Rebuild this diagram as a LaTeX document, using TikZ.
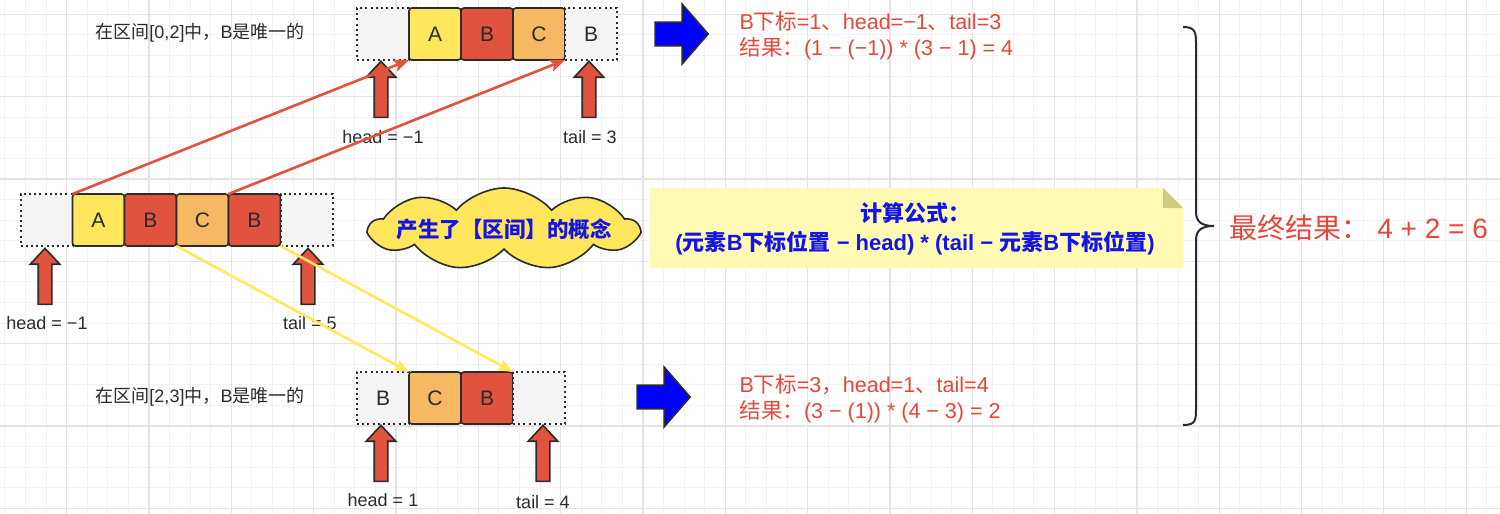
\documentclass[tikz,border=0pt]{standalone}
\usepackage{fontspec}
\setmainfont{Liberation Sans}
\newfontfamily\cjk{Noto Sans CJK SC}
\usepackage{tikz}
\usetikzlibrary{positioning, arrows.meta, shapes.arrows, shapes.symbols}

\definecolor{cellred}{HTML}{E1523F}
\definecolor{cellyellow}{HTML}{FFE65C}
\definecolor{cellorange}{HTML}{F6B862}
\definecolor{holegray}{HTML}{F4F4F4}
\definecolor{inkred}{HTML}{E5483A}
\definecolor{inkblue}{HTML}{1414E6}
\definecolor{linkyellow}{HTML}{FFEA5E}
\definecolor{notefill}{HTML}{FFFBB5}
\definecolor{foldfill}{HTML}{D0CB80}
\definecolor{gridminor}{HTML}{F2F2F2}
\definecolor{gridmajor}{HTML}{E4E4E4}
\definecolor{outline}{HTML}{2B2B2B}

\begin{document}
\begin{tikzpicture}[x=1pt, y=-1pt,
            cell/.style={draw=outline, line width=1.6pt, rounded corners=3pt, minimum width=52pt, minimum height=52pt, inner sep=0pt, outer sep=0pt, text=outline, font=\fontsize{21}{21}\selectfont},
            hole/.style={cell, fill=holegray, rounded corners=0pt, line width=2pt, dash pattern=on 2pt off 3.2pt},
            uparrow/.style={single arrow, draw=outline, line width=1.6pt, fill=cellred, shape border rotate=90, minimum height=56pt, inner sep=6pt, single arrow head extend=8pt, single arrow tip angle=86},
            blockarrow/.style={single arrow, draw=outline, line width=1.6pt, fill=blue, minimum height=53pt, inner sep=11pt, single arrow head extend=18pt, single arrow tip angle=98},
            bubble/.style={cloud, draw=outline, line width=1.6pt, fill=cellyellow, cloud ignores aspect, cloud puffs=9, cloud puff arc=100, minimum width=268pt, minimum height=82pt, inner xsep=-40pt, inner ysep=-4pt, text=inkblue, font=\bfseries\fontsize{21.5}{21.5}\selectfont},
            redlink/.style={draw=cellred, line width=2.6pt, -{Stealth[length=15pt, width=12pt, inset=3pt]}},
            yellowlink/.style={draw=linkyellow, line width=2.6pt, -{Stealth[length=15pt, width=12pt, inset=3pt]}},
            caption/.style={text=outline, font=\fontsize{18}{18}\selectfont},
            marker/.style={text=outline, font=\fontsize{18}{18}\selectfont},
            result/.style={text=inkred, align=left, anchor=west, font=\fontsize{21.5}{26}\selectfont},
            formula/.style={text=inkblue, align=center, font=\bfseries\fontsize{22}{29}\selectfont},
            total/.style={text=inkred, anchor=west, font=\fontsize{28}{28}\selectfont}]
            \useasboundingbox (0,0) rectangle (1500,514);
            \fill[white] (0,0) rectangle (1500,514);
            % grid paper
            \foreach \k in {0,...,72} \draw[gridminor, line width=1pt] ({4.96+20.58*\k},0) -- ({4.96+20.58*\k},514);
            \foreach \k in {0,...,25} \draw[gridminor, line width=1pt] (0,{-6.18+20.58*\k}) -- (1500,{-6.18+20.58*\k});
            \foreach \k in {0,...,17} \draw[gridmajor, line width=1.3pt] ({66.7+82.32*\k},0) -- ({66.7+82.32*\k},514);
            \foreach \k in {0,...,6} \draw[gridmajor, line width=1.3pt] (0,{14.4+82.32*\k}) -- (1500,{14.4+82.32*\k});

            % interval [0,2]
            \node[hole] (t0) at (383,34) {};
            \node[cell, fill=cellyellow, right=0pt of t0] (t1) {A};
            \node[cell, fill=cellred, right=0pt of t1] (t2) {B};
            \node[cell, fill=cellorange, right=0pt of t2] (t3) {C};
            \node[hole, right=0pt of t3] (t4) {B};
            \node[caption] (lbltop) at (200,33) {{\cjk 在区间}[0,2]{\cjk 中，}B{\cjk 是唯一的}};
            \node[uparrow] (ahtop) at (381,93) {};
            \node[uparrow] (attop) at (589,93) {};
            \node[marker] (headtop) at (383,137) {head = −1};
            \node[marker] (tailtop) at (590,137) {tail = 3};
            \node[blockarrow] (goto) at (676.5,34) {};
            \node[result] (restop) at (736,36) {B{\cjk 下标}=1{\cjk 、}head=−1{\cjk 、}tail=3\\{\cjk 结果：}(1 − (−1)) * (3 − 1) = 4};

            % whole array
            \node[hole] (m0) at (46.5,220) {};
            \node[cell, fill=cellyellow, right=0pt of m0] (m1) {A};
            \node[cell, fill=cellred, right=0pt of m1] (m2) {B};
            \node[cell, fill=cellorange, right=0pt of m2] (m3) {C};
            \node[cell, fill=cellred, right=0pt of m3] (m4) {B};
            \node[hole, right=0pt of m4] (m5) {};
            \node[uparrow] (ahmid) at (45,280) {};
            \node[uparrow] (atmid) at (308,280) {};
            \node[marker] (headmid) at (47,323) {head = −1};
            \node[marker] (tailmid) at (310,323) {tail = 5};
            \node[bubble] (idea) at (504,229) {\cjk 产生了【区间】的概念};

            % interval [2,3]
            \node[hole] (b0) at (383,398) {B};
            \node[cell, fill=cellorange, right=0pt of b0] (b1) {C};
            \node[cell, fill=cellred, right=0pt of b1] (b2) {B};
            \node[hole, right=0pt of b2] (b3) {};
            \node[caption] (lblbot) at (200,397) {{\cjk 在区间}[2,3]{\cjk 中，}B{\cjk 是唯一的}};
            \node[uparrow] (ahbot) at (381,457) {};
            \node[uparrow] (atbot) at (543,457) {};
            \node[marker] (headbot) at (383,500) {head = 1};
            \node[marker] (tailbot) at (543,502) {tail = 4};
            \node[blockarrow] (gobot) at (658.5,397) {};
            \node[result] (resbot) at (736,399) {B{\cjk 下标}=3{\cjk ，}head=1{\cjk 、}tail=4\\{\cjk 结果：}(3 − (1)) * (4 − 3) = 2};

            \draw[redlink] (m1.north west) -- (t1.south west);
            \draw[redlink] (m4.north west) -- (t3.south east);
            \draw[yellowlink] (m3.south west) -- (b1.north west);
            \draw[yellowlink] (m4.south east) -- (b2.north east);

            % note and sum
            \fill[notefill] (650,188) -- (1163,188) -- (1183,208) -- (1183,268) -- (650,268) -- cycle;
            \fill[foldfill] (1163,188) -- (1163,208) -- (1183,208) -- cycle;
            \node[formula] (rule) at (915,229) {{\cjk 计算公式：}\\({\cjk 元素}B{\cjk 下标位置} − head) * (tail − {\cjk 元素}B{\cjk 下标位置})};
            \draw[outline, line width=2pt] (1183,27) .. controls (1196,27) and (1196,33) .. (1196,45) -- (1196,212)
                .. controls (1196,222) and (1202,226) .. (1214,226) .. controls (1202,226) and (1196,230) .. (1196,240)
                -- (1196,408) .. controls (1196,420) and (1196,425) .. (1183,425);
            \node[total] (sum) at (1226,228) {{\cjk 最终结果：} 4 + 2 = 6};
        \end{tikzpicture}
\end{document}
